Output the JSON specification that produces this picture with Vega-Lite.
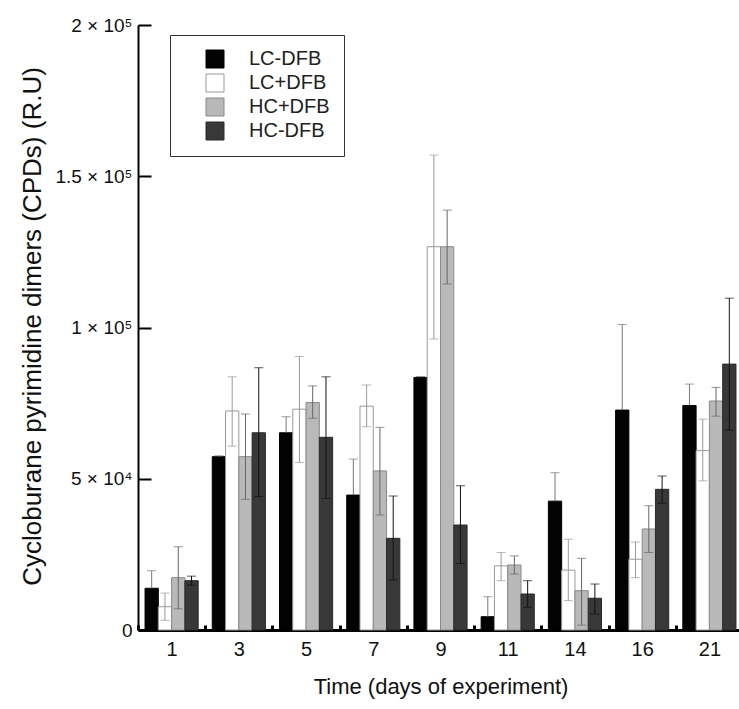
{
  "$schema": "https://vega.github.io/schema/vega-lite/v6.json",
  "width": 605,
  "height": 605,
  "autosize": {"type": "none"},
  "padding": {"left": 138, "top": 25, "right": 0, "bottom": 79},
  "config": {
    "font": "Liberation Sans",
    "view": {"stroke": null},
    "axis": {"domainColor": "#000", "tickColor": "#000", "labelColor": "#111", "titleColor": "#111", "grid": false, "titleFontWeight": "normal"},
    "axisX": {"labelFontSize": 20, "labelPadding": 14, "labelAngle": 0, "titleFontSize": 22},
    "axisY": {"labelFontSize": 19, "labelPadding": 19, "titleFontSize": 26},
    "legend": {
      "orient": "none", "legendX": 32, "legendY": 10, "padding": 14, "symbolOffset": 21,
      "strokeColor": "#333", "fillColor": "#ffffff", "symbolType": "square", "symbolSize": 324,
      "symbolStrokeWidth": 1, "labelFontSize": 20, "labelOffset": 24, "rowPadding": 2, "labelColor": "#222", "labelLimit": 200
    }
  },
  "data": {
    "values": [
      {"day": "1", "group": "LC-DFB", "value": 13800, "lo": 13800, "hi": 19600},
      {"day": "1", "group": "LC+DFB", "value": 7700, "lo": 3200, "hi": 12200},
      {"day": "1", "group": "HC+DFB", "value": 17300, "lo": 7000, "hi": 27500},
      {"day": "1", "group": "HC-DFB", "value": 16300, "lo": 14800, "hi": 17800},
      {"day": "3", "group": "LC-DFB", "value": 57300, "lo": 57300, "hi": 57600},
      {"day": "3", "group": "LC+DFB", "value": 72400, "lo": 60800, "hi": 83700},
      {"day": "3", "group": "HC+DFB", "value": 57300, "lo": 43200, "hi": 71400},
      {"day": "3", "group": "HC-DFB", "value": 65200, "lo": 44100, "hi": 86700},
      {"day": "5", "group": "LC-DFB", "value": 65200, "lo": 65200, "hi": 70500},
      {"day": "5", "group": "LC+DFB", "value": 73000, "lo": 55400, "hi": 90400},
      {"day": "5", "group": "HC+DFB", "value": 75200, "lo": 70000, "hi": 80700},
      {"day": "5", "group": "HC-DFB", "value": 63700, "lo": 43500, "hi": 83700},
      {"day": "7", "group": "LC-DFB", "value": 44600, "lo": 44600, "hi": 56500},
      {"day": "7", "group": "LC+DFB", "value": 74000, "lo": 67200, "hi": 81000},
      {"day": "7", "group": "HC+DFB", "value": 52600, "lo": 38000, "hi": 67000},
      {"day": "7", "group": "HC-DFB", "value": 30300, "lo": 16500, "hi": 44300},
      {"day": "9", "group": "LC-DFB", "value": 83500, "lo": 83500, "hi": 83800},
      {"day": "9", "group": "LC+DFB", "value": 126700, "lo": 96200, "hi": 157000},
      {"day": "9", "group": "HC+DFB", "value": 126700, "lo": 114400, "hi": 138800},
      {"day": "9", "group": "HC-DFB", "value": 34700, "lo": 22000, "hi": 47700},
      {"day": "11", "group": "LC-DFB", "value": 4400, "lo": 4400, "hi": 11000},
      {"day": "11", "group": "LC+DFB", "value": 21200, "lo": 16300, "hi": 25600},
      {"day": "11", "group": "HC+DFB", "value": 21500, "lo": 18500, "hi": 24500},
      {"day": "11", "group": "HC-DFB", "value": 11900, "lo": 7500, "hi": 16300},
      {"day": "14", "group": "LC-DFB", "value": 42600, "lo": 42600, "hi": 52000},
      {"day": "14", "group": "LC+DFB", "value": 19800, "lo": 9700, "hi": 30000},
      {"day": "14", "group": "HC+DFB", "value": 13000, "lo": 1600, "hi": 23700},
      {"day": "14", "group": "HC-DFB", "value": 10500, "lo": 5300, "hi": 15200},
      {"day": "16", "group": "LC-DFB", "value": 72700, "lo": 72700, "hi": 101000},
      {"day": "16", "group": "LC+DFB", "value": 23400, "lo": 17300, "hi": 29100},
      {"day": "16", "group": "HC+DFB", "value": 33400, "lo": 25600, "hi": 41100},
      {"day": "16", "group": "HC-DFB", "value": 46500, "lo": 41900, "hi": 50900},
      {"day": "21", "group": "LC-DFB", "value": 74200, "lo": 74200, "hi": 81300},
      {"day": "21", "group": "LC+DFB", "value": 59300, "lo": 49300, "hi": 69700},
      {"day": "21", "group": "HC+DFB", "value": 75700, "lo": 70700, "hi": 80200},
      {"day": "21", "group": "HC-DFB", "value": 87900, "lo": 66100, "hi": 109700}
    ]
  },
  "layer": [
    {
      "mark": {"type": "bar", "strokeWidth": 1},
      "encoding": {
        "x": {
          "field": "day", "type": "ordinal",
          "sort": ["1", "3", "5", "7", "9", "11", "14", "16", "21"],
          "scale": {"paddingInner": 0, "paddingOuter": 0},
          "axis": {
            "tickBand": "extent", "tickSize": -5, "tickWidth": 3, "domainWidth": 3,
            "title": "Time (days of experiment)", "titleY": 56, "titleBaseline": "middle"
          }
        },
        "xOffset": {
          "field": "group", "type": "nominal",
          "sort": ["LC-DFB", "LC+DFB", "HC+DFB", "HC-DFB"],
          "scale": {"paddingInner": 0, "paddingOuter": 0.53}
        },
        "y": {
          "field": "value", "type": "quantitative",
          "scale": {"domain": [0, 200000], "nice": false},
          "axis": {
            "values": [0, 50000, 100000, 150000, 200000],
            "labelExpr": "datum.value == 0 ? '0' : datum.value == 50000 ? '5 × 10⁴' : datum.value == 100000 ? '1 × 10⁵' : datum.value == 150000 ? '1.5 × 10⁵' : '2 × 10⁵'",
            "tickSize": -13, "tickWidth": 2, "domainWidth": 2,
            "title": "Cycloburane pyrimidine dimers (CPDs) (R.U)",
            "titleX": -106, "titleY": 301, "titleAngle": 270, "titleAlign": "center", "titleBaseline": "middle"
          }
        },
        "fill": {
          "field": "group", "type": "nominal",
          "scale": {"domain": ["LC-DFB", "LC+DFB", "HC+DFB", "HC-DFB"], "range": ["#030303", "#ffffff", "#b9b9b9", "#383838"]},
          "legend": {"title": null}
        },
        "stroke": {
          "field": "group", "type": "nominal",
          "scale": {"domain": ["LC-DFB", "LC+DFB", "HC+DFB", "HC-DFB"], "range": ["#000000", "#999999", "#8a8a8a", "#2a2a2a"]},
          "legend": {"title": null}
        }
      }
    },
    {
      "mark": {"type": "rule", "strokeWidth": 1},
      "encoding": {
        "x": {"field": "day", "type": "ordinal", "sort": ["1", "3", "5", "7", "9", "11", "14", "16", "21"]},
        "xOffset": {"field": "group", "type": "nominal", "sort": ["LC-DFB", "LC+DFB", "HC+DFB", "HC-DFB"]},
        "y": {"field": "lo", "type": "quantitative"},
        "y2": {"field": "hi"},
        "color": {
          "field": "group", "type": "nominal",
          "scale": {"domain": ["LC-DFB", "LC+DFB", "HC+DFB", "HC-DFB"], "range": ["#777777", "#9a9a9a", "#666666", "#111111"]},
          "legend": null
        }
      }
    },
    {
      "mark": {"type": "tick", "size": 9, "thickness": 1},
      "encoding": {
        "x": {"field": "day", "type": "ordinal", "sort": ["1", "3", "5", "7", "9", "11", "14", "16", "21"]},
        "xOffset": {"field": "group", "type": "nominal", "sort": ["LC-DFB", "LC+DFB", "HC+DFB", "HC-DFB"]},
        "y": {"field": "hi", "type": "quantitative"},
        "color": {"field": "group", "type": "nominal", "legend": null}
      }
    },
    {
      "transform": [{"filter": "datum.group != 'LC-DFB'"}],
      "mark": {"type": "tick", "size": 9, "thickness": 1},
      "encoding": {
        "x": {"field": "day", "type": "ordinal", "sort": ["1", "3", "5", "7", "9", "11", "14", "16", "21"]},
        "xOffset": {"field": "group", "type": "nominal", "sort": ["LC-DFB", "LC+DFB", "HC+DFB", "HC-DFB"]},
        "y": {"field": "lo", "type": "quantitative"},
        "color": {"field": "group", "type": "nominal", "legend": null}
      }
    }
  ]
}
